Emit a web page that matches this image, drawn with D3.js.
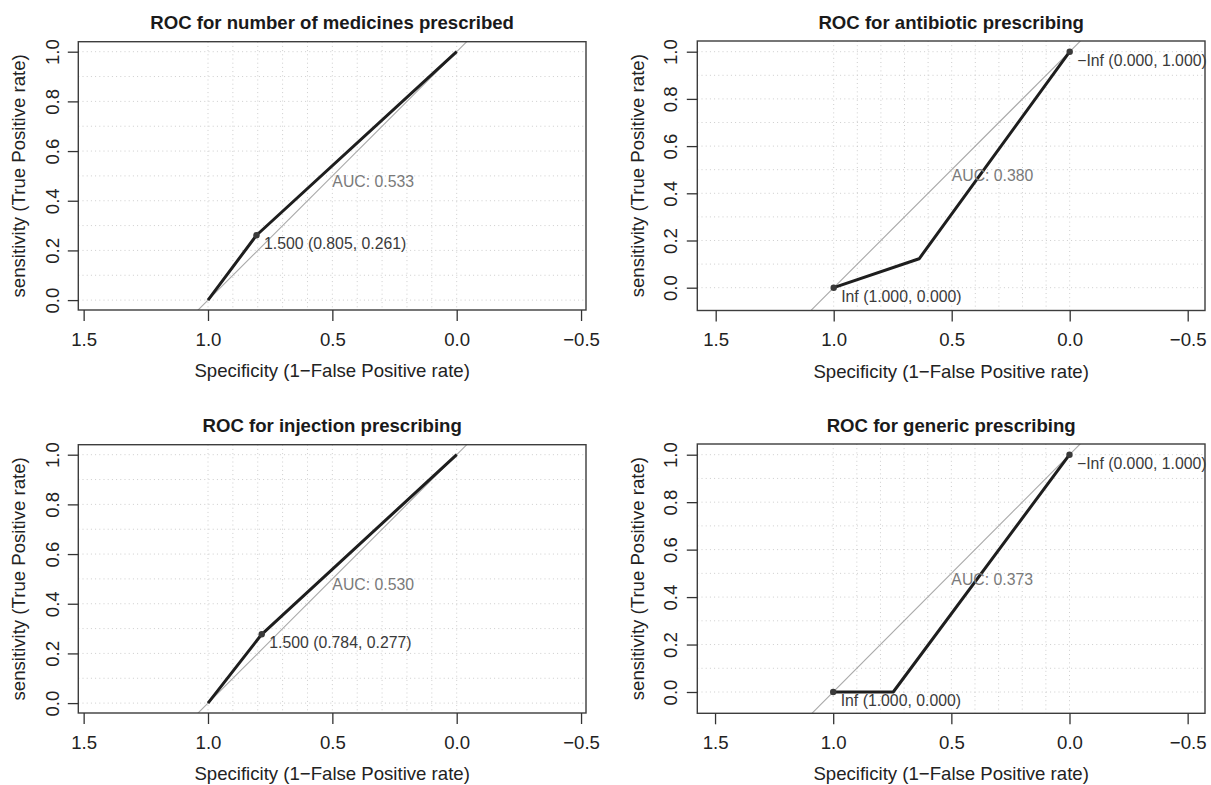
<!DOCTYPE html>
<html><head><meta charset="utf-8">
<script src="https://cdn.jsdelivr.net/npm/d3@7"></script>
<style>
body{margin:0;background:#fff;}
svg{display:block;}
text{font-family:"Liberation Sans",Arial,Helvetica,sans-serif;}
</style>
</head><body>
<svg id="chart" width="1211" height="785"></svg>
<script>
// ---- data ----
const titles = ["ROC for number of medicines prescribed","ROC for antibiotic prescribing","ROC for injection prescribing","ROC for generic prescribing"];
const specificity = [[1,0.805,0],[1,0.638,0],[1,0.784,0],[1,0.746,0]];
const sensitivity = [[0,0.261,1],[0,0.1225,1],[0,0.277,1],[0,0,1]];
const aucLabels = ["AUC: 0.533","AUC: 0.380","AUC: 0.530","AUC: 0.373"];
const thrSpec = [[0.805],[1,0],[0.784],[1,0]];
const thrSens = [[0.261],[0,1],[0.277],[0,1]];
const thrLabels = [["1.500 (0.805, 0.261)"],["Inf (1.000, 0.000)","\u2212Inf (0.000, 1.000)"],["1.500 (0.784, 0.277)"],["Inf (1.000, 0.000)","\u2212Inf (0.000, 1.000)"]];
const xTicks = [1.5,1.0,0.5,0.0,-0.5];
const xTickLabels = ["1.5","1.0","0.5","0.0","\u22120.5"];
const yTicks = [0,0.2,0.4,0.6,0.8,1.0];
const yTickLabels = ["0.0","0.2","0.4","0.6","0.8","1.0"];
const gridValues = [0,0.1,0.2,0.3,0.4,0.5,0.6,0.7,0.8,0.9,1.0];
const xTitle = "Specificity (1\u2212False Positive rate)";
const yTitle = "sensitivity (True Positive rate)";

// ---- layout (pixel geometry of each panel) ----
const layouts = [
  {box:[78.3,586,41.7,310],   px1:208,   px0:456.7,  py1:51.7,  py0:300.1, labOff:19.5, yTitleX:25,  titleY:29},
  {box:[697.3,1205,41,310.5], px1:833.7, px0:1069.7, py1:51.7,  py0:287.7, labOff:20.6, yTitleX:644, titleY:29},
  {box:[78.3,586,444.7,713],  px1:208,   px0:456.7,  py1:454.7, py0:703.1, labOff:19.5, yTitleX:25,  titleY:432},
  {box:[697.3,1205,444,713.3],px1:833.2, px0:1069.5, py1:454.7, py0:692,   labOff:20.6, yTitleX:644, titleY:432}
];

const svg = d3.select("#chart");
const BIG = 18.6, SMALL = 15.8;

layouts.forEach((L, i) => {
  const [bl, br, bt, bb] = L.box;
  const x = d3.scaleLinear().domain([1,0]).range([L.px1, L.px0]);
  const y = d3.scaleLinear().domain([0,1]).range([L.py0, L.py1]);
  const g = svg.append("g");

  const clipId = "clip" + i;
  g.append("clipPath").attr("id", clipId).append("rect")
    .attr("x", bl).attr("y", bt).attr("width", br - bl).attr("height", bb - bt);

  // grid
  const grid = g.append("g").attr("stroke", "#cdcdcd").attr("stroke-width", 1).attr("stroke-dasharray", "1,3.2");
  grid.selectAll("line.v").data(gridValues).join("line").attr("class","v")
    .attr("x1", d => x(d)).attr("x2", d => x(d)).attr("y1", bt).attr("y2", bb);
  grid.selectAll("line.h").data(gridValues).join("line").attr("class","h")
    .attr("y1", d => y(d)).attr("y2", d => y(d)).attr("x1", bl).attr("x2", br);

  // diagonal reference
  g.append("line").attr("clip-path", `url(#${clipId})`)
    .attr("x1", x(1.5)).attr("y1", y(-0.5)).attr("x2", x(-0.5)).attr("y2", y(1.5))
    .attr("stroke", "#a9a9a9").attr("stroke-width", 1.1);

  // ROC curve
  const pts = specificity[i].map((s, k) => [s, sensitivity[i][k]]);
  g.append("path").datum(pts)
    .attr("d", d3.line().x(d => x(d[0])).y(d => y(d[1])))
    .attr("fill", "none").attr("stroke", "#1e1e1e").attr("stroke-width", 3)
    .attr("stroke-linejoin", "round");

  // threshold points + labels
  const cap = SMALL * 0.716;
  thrSpec[i].forEach((s, k) => {
    const sv = thrSens[i][k];
    g.append("circle").attr("cx", x(s)).attr("cy", y(sv)).attr("r", 3.2).attr("fill", "#3a3a3a");
    g.append("text").attr("x", x(s) + 7.5).attr("y", y(sv) + 1.25 * cap)
      .attr("font-size", SMALL).attr("fill", "#3a3a3a").text(thrLabels[i][k]);
  });

  // AUC text
  g.append("text").attr("x", x(0.5)).attr("y", y(0.5) + cap)
    .attr("font-size", SMALL).attr("fill", "#7a7a7a").text(aucLabels[i]);

  // box
  g.append("rect").attr("x", bl).attr("y", bt).attr("width", br - bl).attr("height", bb - bt)
    .attr("fill", "none").attr("stroke", "#3d3d3d").attr("stroke-width", 1.4);

  // x axis
  const xa = g.append("g").attr("transform", `translate(0,${bb})`)
    .call(d3.axisBottom(x).tickValues(xTicks).tickSize(11).tickFormat((d, k) => xTickLabels[k]));
  xa.select(".domain").remove();
  xa.selectAll(".tick line").attr("stroke", "#333").attr("stroke-width", 1.3);
  xa.selectAll(".tick text").attr("y", 35.5).attr("dy", null)
    .attr("font-size", BIG).attr("fill", "#222").attr("font-family", null);

  // y axis
  const ya = g.append("g").attr("transform", `translate(${bl},0)`)
    .call(d3.axisLeft(y).tickValues(yTicks).tickSize(10.5).tickFormat((d, k) => yTickLabels[k]));
  ya.select(".domain").remove();
  ya.selectAll(".tick line").attr("stroke", "#333").attr("stroke-width", 1.3);
  ya.selectAll(".tick text").attr("transform", "rotate(-90)")
    .attr("x", 0).attr("y", -L.labOff).attr("dy", null).attr("text-anchor", "middle")
    .attr("font-size", BIG).attr("fill", "#222").attr("font-family", null);

  // titles
  g.append("text").attr("x", (bl + br) / 2).attr("y", L.titleY).attr("text-anchor", "middle")
    .attr("font-size", BIG).attr("font-weight", "bold").attr("fill", "#1a1a1a").text(titles[i]);
  g.append("text").attr("x", (bl + br) / 2).attr("y", bb + 67).attr("text-anchor", "middle")
    .attr("font-size", BIG).attr("fill", "#222").text(xTitle);
  g.append("text").attr("transform", `translate(${L.yTitleX},${(bt + bb) / 2}) rotate(-90)`)
    .attr("text-anchor", "middle").attr("font-size", BIG).attr("fill", "#222").text(yTitle);
});
</script>
</body></html>
